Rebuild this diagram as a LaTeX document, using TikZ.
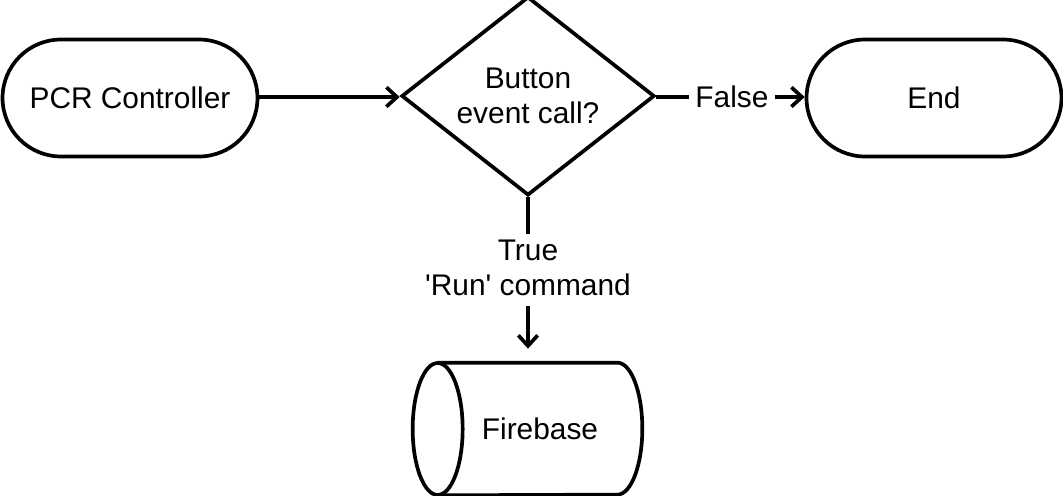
\documentclass[tikz,border=0pt]{standalone}
\usepackage{fontspec}
\setmainfont{Liberation Sans}
\usetikzlibrary{arrows.meta,shapes.geometric}

\begin{document}
\begin{tikzpicture}[x=0.02cm, y=-0.02cm, >={Straight Barb[length=6pt,width=11pt]},
    every node/.style={font=\fontsize{17}{20}\selectfont, align=center},
    line/.style={line width=2.1pt},
    term/.style={line, draw, rectangle, rounded corners=1.17cm, minimum width=5.1cm, minimum height=2.34cm},
    decide/.style={line, draw, diamond, inner sep=0pt, minimum width=5.06cm, minimum height=3.76cm}]
    \useasboundingbox (0,0) rectangle (1063,496);
    % nodes
    \node[term] (pcr) at (130,98) {PCR Controller};
    \node[decide] (dec) at (528,96) {Button\\event call?};
    \node[term] (end) at (934,98) {End};
    \node (fls) at (732,97) {False};
    \node (tru) at (528,268) {True\\\textquotesingle Run\textquotesingle{} command};
    \node[minimum width=4.08cm, minimum height=2.64cm] (fb) at (540,429) {Firebase};
    % database outline
    \draw[line] (fb.west) ellipse[x radius=0.5cm, y radius=1.32cm];
    \draw[line] (fb.north west) -- ([xshift=-0.5cm]fb.north east)
        arc[start angle=90, end angle=-90, x radius=0.5cm, y radius=1.32cm]
        -- (fb.south west);
    % connectors
    \draw[line,->] (pcr.east |- 0,97) -- (dec.west |- 0,97);
    \draw[line] (dec.east |- 0,97) -- (fls.west);
    \draw[line,->] (fls.east) -- (end.west |- 0,97);
    \draw[line] (dec.south) -- (tru.north);
    \draw[line,->, shorten <=2pt, shorten >=8pt] (tru.south) -- (fb.north -| tru.south);
\end{tikzpicture}
\end{document}
